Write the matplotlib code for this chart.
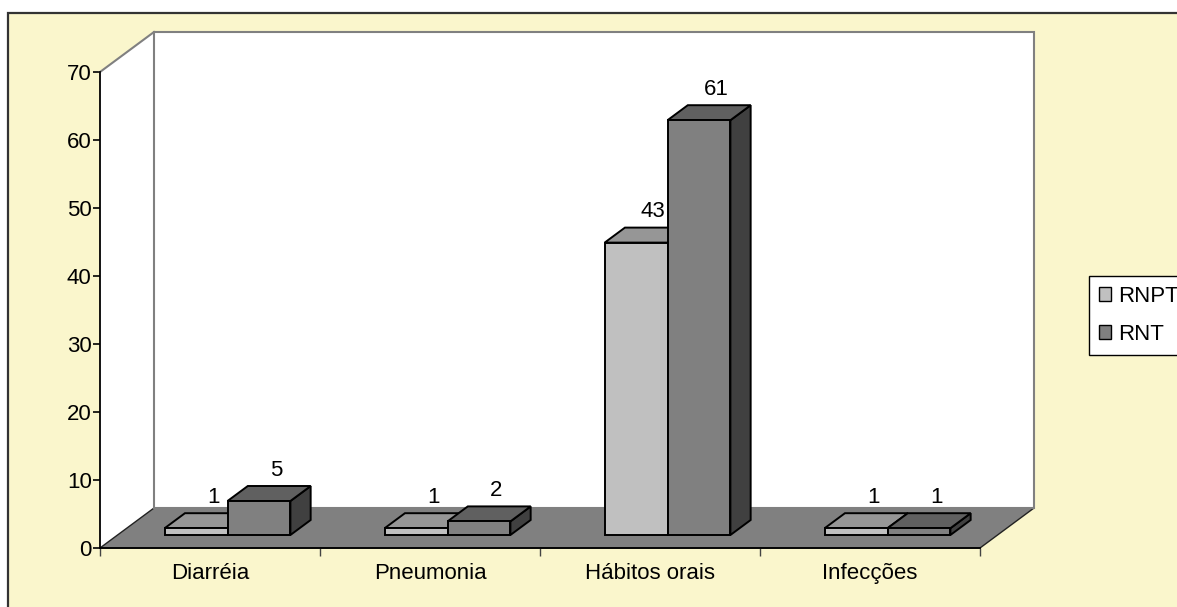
import matplotlib
matplotlib.use('Agg')
import matplotlib.pyplot as plt
from matplotlib.patches import Polygon, Rectangle, Patch

plt.rcParams['font.family'] = ['Liberation Sans', 'DejaVu Sans']

##################################################
# data
categories = ['Diarréia', 'Pneumonia', 'Hábitos orais', 'Infecções']
rnpt = [1, 1, 43, 1]
rnt = [5, 2, 61, 1]
series_names = ['RNPT', 'RNT']
yticks = [0, 10, 20, 30, 40, 50, 60, 70]

##################################################
# look
W, H = 1177, 607
BG = '#FAF6CC'
FS = 16
# faces: front, top, side
RNPT_COLS = ('#C0C0C0', '#969696', '#909090')
RNT_COLS = ('#808080', '#606060', '#404040')

# oblique depth of the whole floor, in data units (x: categories, y: values)
DX = 54 / 220.0
DY = 40 / 6.8
Z0, Z1 = 0.325, 0.70          # bar depth span inside the floor
BAR_W = 1 / 3.5               # gap width 150%


def box(ax, x0, x1, h, cols):
	fx, fy = DX * Z0, DY * Z0
	bx, by = DX * Z1, DY * Z1
	front = [(x0 + fx, fy), (x1 + fx, fy), (x1 + fx, h + fy), (x0 + fx, h + fy)]
	top = [(x0 + fx, h + fy), (x1 + fx, h + fy), (x1 + bx, h + by), (x0 + bx, h + by)]
	side = [(x1 + fx, fy), (x1 + bx, by), (x1 + bx, h + by), (x1 + fx, h + fy)]
	for pts, c in ((side, cols[2]), (top, cols[1]), (front, cols[0])):
		ax.add_patch(Polygon(pts, closed=True, facecolor=c, edgecolor='black',
							 linewidth=1.4, joinstyle='miter', clip_on=False, zorder=5))


def main():
	fig = plt.figure(figsize=(W / 100.0, H / 100.0), dpi=100, facecolor='white')
	fig.patches.append(Rectangle((8.0 / W, -0.1), 1.2, 1.1 - 13.0 / H,
								 transform=fig.transFigure, facecolor=BG,
								 edgecolor='#333333', linewidth=1.6, zorder=-10))

	ax = fig.add_axes([100.0 / W, (H - 548.0) / H, 880.0 / W, 476.0 / H])
	ax.set_zorder(1)
	ax.set_xlim(0, len(categories))
	ax.set_ylim(0, 70)
	ax.patch.set_visible(False)
	n = len(categories)
	ymax = yticks[-1]

	# left wall
	ax.add_patch(Polygon([(0, 0), (DX, DY), (DX, ymax + DY), (0, ymax)], facecolor='white',
						 edgecolor='none', clip_on=False, zorder=1))
	ax.plot([0, DX], [ymax, ymax + DY], color='#808080', lw=1.5, clip_on=False, zorder=2)
	# floor
	ax.add_patch(Polygon([(0, 0), (n, 0), (n + DX, DY), (DX, DY)], facecolor='#808080',
						 edgecolor='#222222', linewidth=1.0, clip_on=False, zorder=1))
	# back wall
	ax.add_patch(Rectangle((DX, DY), n, ymax, facecolor='white', edgecolor='#808080',
						   linewidth=1.5, clip_on=False, zorder=1))

	# bars
	for i in range(n):
		c = i + 0.5
		box(ax, c - BAR_W, c, rnpt[i], RNPT_COLS)
		box(ax, c, c + BAR_W, rnt[i], RNT_COLS)
		for xc, v in ((c - BAR_W / 2, rnpt[i]), (c + BAR_W / 2, rnt[i])):
			ax.annotate(str(v), xy=(xc + DX * Z1, v + DY * Z1), xytext=(-3, 16),
						textcoords='offset pixels', ha='center', va='center',
						fontsize=FS, zorder=6, annotation_clip=False)

	# axes
	for s in ('top', 'right'):
		ax.spines[s].set_visible(False)
	for s in ('left', 'bottom'):
		ax.spines[s].set_linewidth(1.3)
		ax.spines[s].set_zorder(4)
	ax.set_yticks(yticks)
	ax.tick_params(axis='y', direction='out', length=5, width=1.2, pad=1, labelsize=FS)
	ax.set_xticks(range(n + 1))
	ax.set_xticklabels([])
	ax.set_xticks([i + 0.5 for i in range(n)], minor=True)
	ax.set_xticklabels(categories, minor=True)
	ax.tick_params(axis='x', which='major', direction='out', length=6, width=1.0, color='#444444')
	ax.tick_params(axis='x', which='minor', length=0, pad=11, labelsize=FS)

	# legend
	handles = [Patch(facecolor=RNPT_COLS[0], edgecolor='black', linewidth=1),
			   Patch(facecolor=RNT_COLS[0], edgecolor='black', linewidth=1)]
	leg = fig.legend(handles, series_names, loc='upper left',
					 bbox_to_anchor=(1089.0 / W, 1 - 276.0 / H), borderaxespad=0,
					 frameon=True, fancybox=False, edgecolor='black', facecolor='white',
					 framealpha=1, fontsize=FS, handlelength=0.55, handleheight=0.55,
					 handletextpad=0.3, borderpad=0.45, labelspacing=0.75)
	leg.get_frame().set_linewidth(1.0)

	fig.savefig('out.png', dpi=100, facecolor=fig.get_facecolor())


if __name__ == '__main__':
	main()
